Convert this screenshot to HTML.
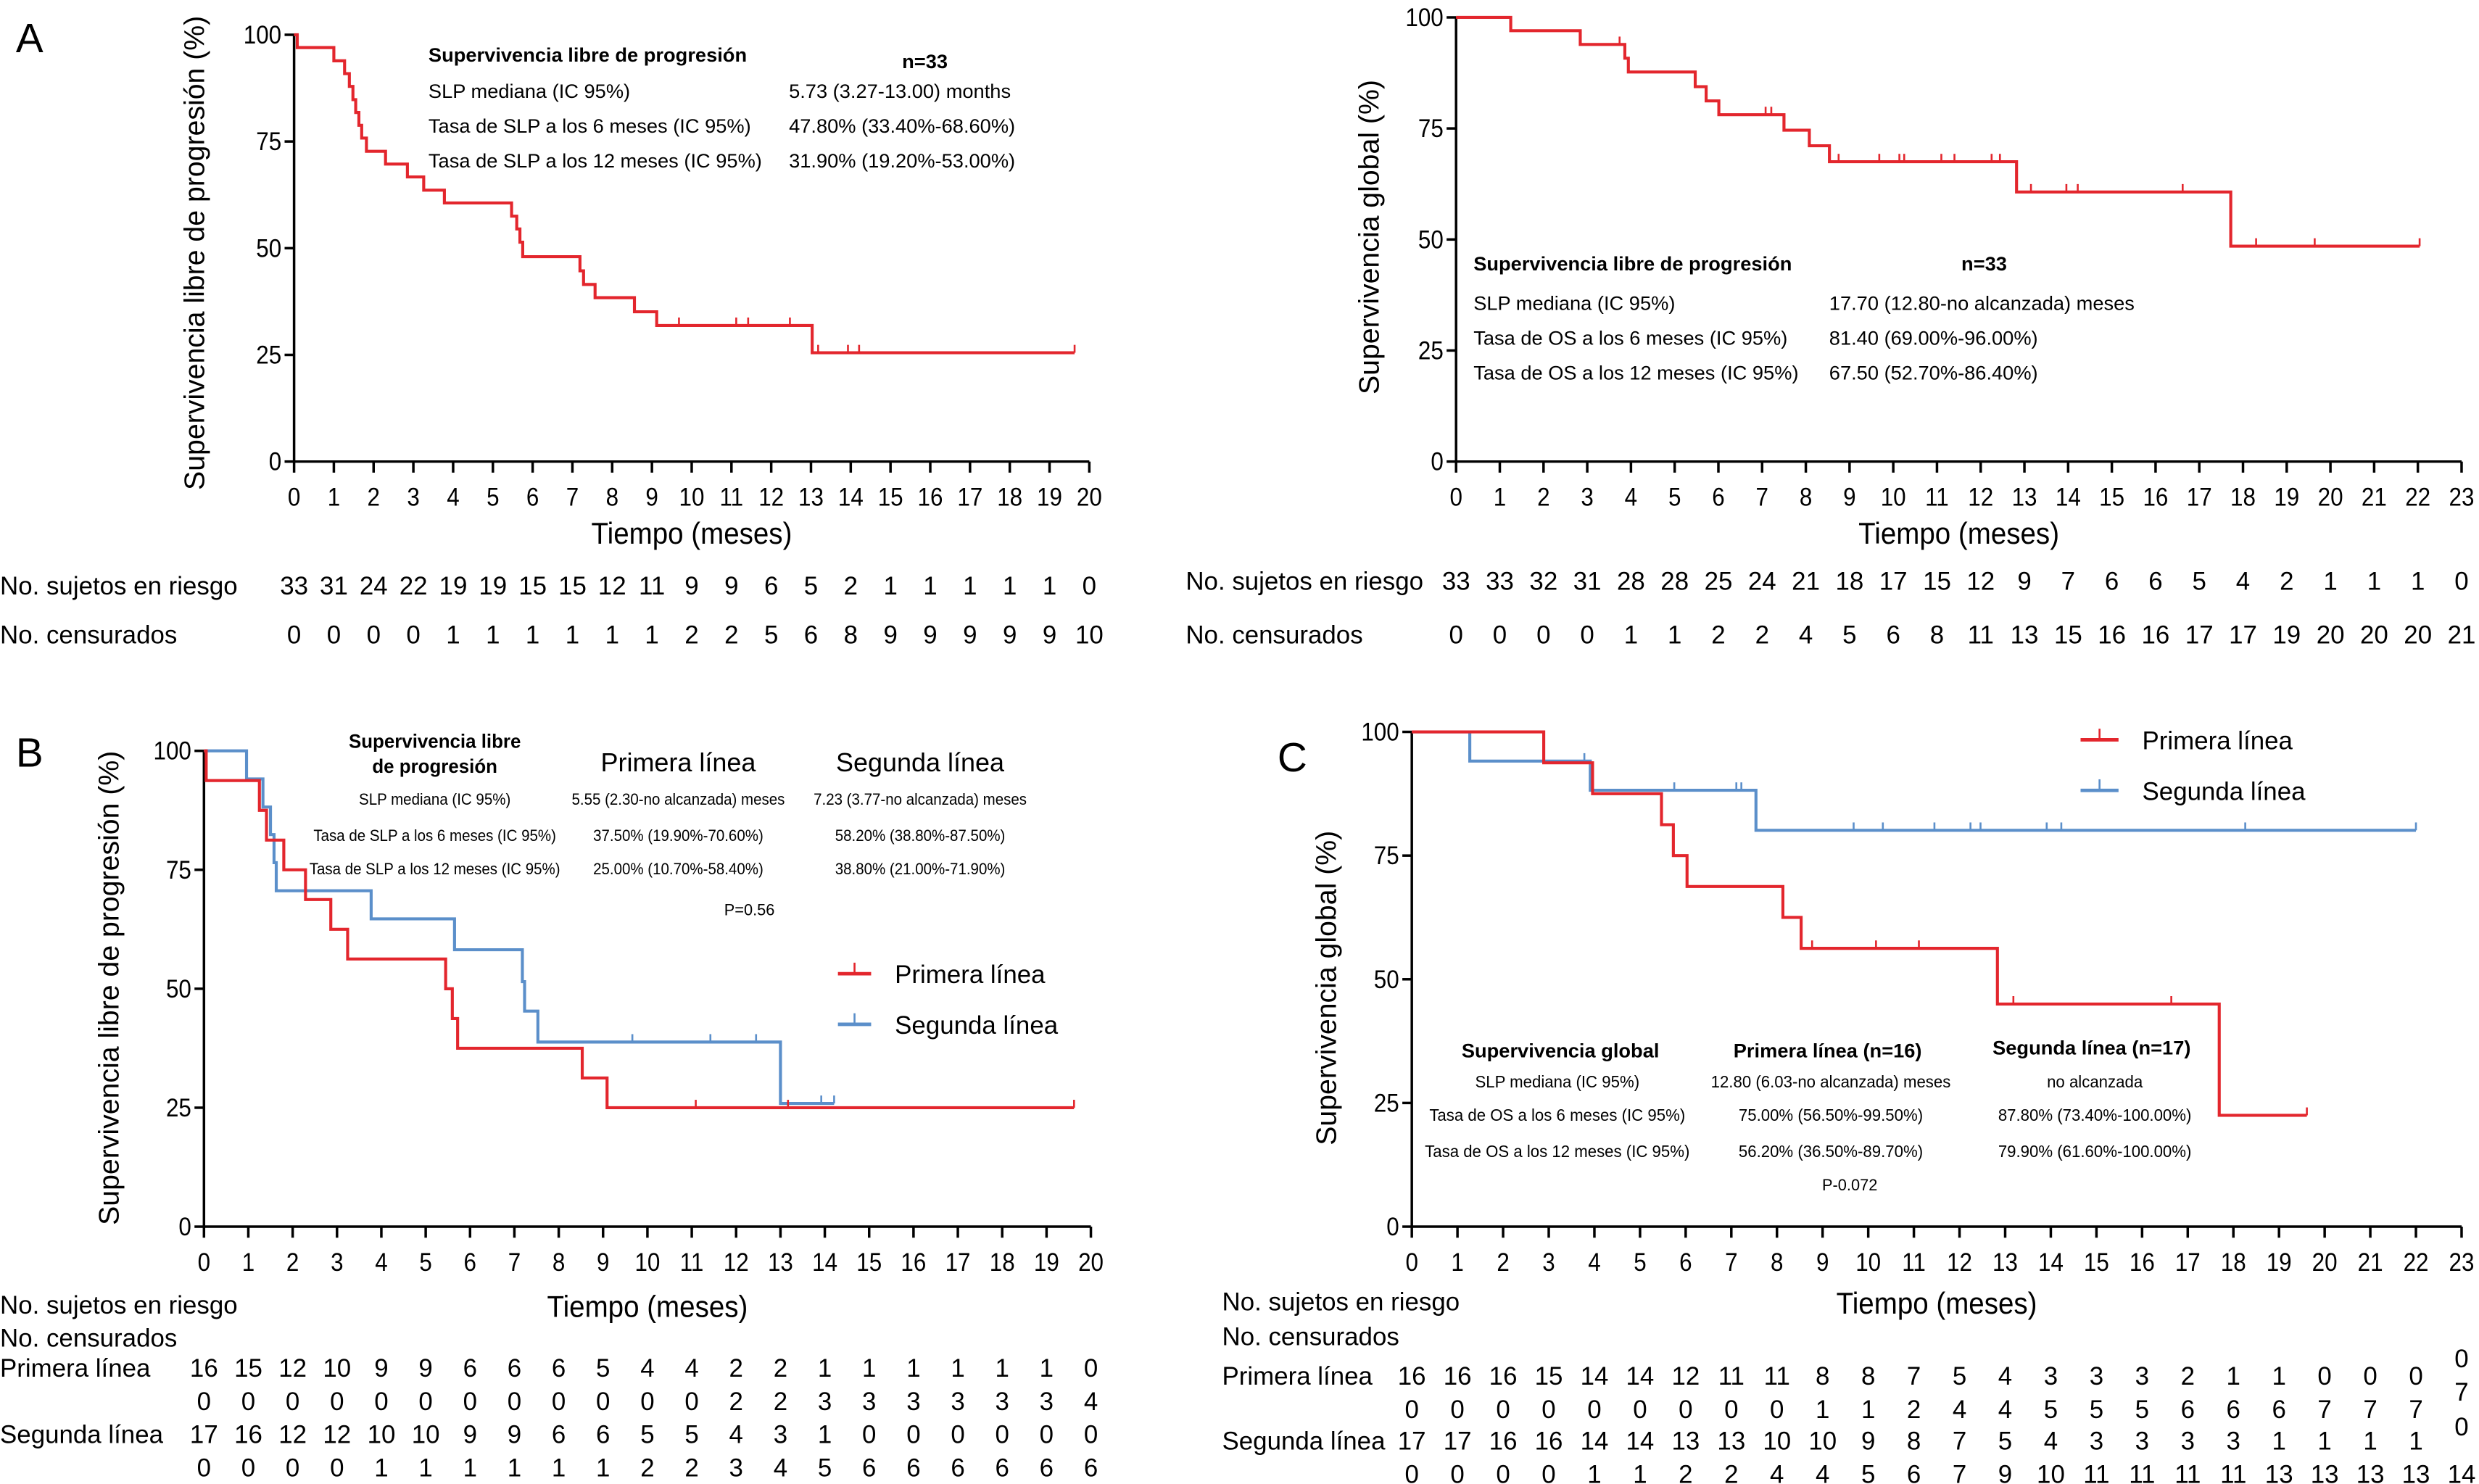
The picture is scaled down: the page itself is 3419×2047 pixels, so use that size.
<!DOCTYPE html>
<html><head><meta charset="utf-8"><style>
html,body{margin:0;padding:0;background:#fff}
svg{display:block}
text{font-family:"Liberation Sans",sans-serif;fill:#000}
</style></head><body>
<svg id="fig" width="3419" height="2047" viewBox="0 0 1568 938.8" xmlns="http://www.w3.org/2000/svg"></svg>
<script>
// ---- Panel A left (PFS overall) ----
const aTimes=[0.08,1.0,1.27,1.39,1.48,1.55,1.63,1.7,1.82,2.3,2.85,3.26,3.78,5.47,5.6,5.68,5.75,7.19,7.28,7.57,8.56,9.12,13.03];
const aSurv=[97,93.9,90.9,87.9,84.8,81.8,78.8,75.8,72.7,69.7,66.7,63.6,60.6,57.5,54.5,51.4,48.0,44.7,41.5,38.4,35.1,31.9,25.5];
const aCens=[9.68,11.12,11.42,12.47,13.18,13.93,14.21];
const aEnd=19.63;
const aRisk=[33,31,24,22,19,19,15,15,12,11,9,9,6,5,2,1,1,1,1,1,0];
const aCensN=[0,0,0,0,1,1,1,1,1,1,2,2,5,6,8,9,9,9,9,9,10];
// ---- Panel A right (OS overall) ----
const oTimes=[1.25,2.84,3.86,3.94,5.47,5.72,6.01,7.5,8.08,8.54,12.82,17.72];
const oSurv=[97,93.9,90.8,87.7,84.4,81.2,78.1,74.6,71.1,67.5,60.7,48.5];
const oCens=[3.74,7.08,7.21,8.75,9.68,10.14,10.25,11.1,11.4,12.25,12.44,13.15,13.96,14.22,16.62,18.3,19.64];
const oEnd=22.04;
const oRisk=[33,33,32,31,28,28,25,24,21,18,17,15,12,9,7,6,6,5,4,2,1,1,1,0];
const oCensN=[0,0,0,0,1,1,2,2,4,5,6,8,11,13,15,16,16,17,17,19,20,20,20,21];
// ---- Panel B (PFS by line) ----
const bRedTimes=[0.05,1.25,1.41,1.8,2.29,2.86,3.24,5.45,5.6,5.72,8.53,9.09];
const bRedSurv=[93.75,87.5,81.25,75,68.75,62.5,56.25,50,43.75,37.5,31.25,25];
const bRedCens=[11.09,13.17];
const bRedEnd=19.62;
const bBlueTimes=[0.96,1.33,1.5,1.58,1.63,3.77,5.65,7.18,7.23,7.53,13.0];
const bBlueSurv=[94.1,88.2,82.4,76.5,70.6,64.7,58.2,51.5,45.3,38.8,25.9];
const bBlueCens=[9.66,11.42,12.45,13.92];
const bBlueEnd=14.21;
const bRisk1=[16,15,12,10,9,9,6,6,6,5,4,4,2,2,1,1,1,1,1,1,0];
const bCens1=[0,0,0,0,0,0,0,0,0,0,0,0,2,2,3,3,3,3,3,3,4];
const bRisk2=[17,16,12,12,10,10,9,9,6,6,5,5,4,3,1,0,0,0,0,0,0];
const bCens2=[0,0,0,0,1,1,1,1,1,1,2,2,3,4,5,6,6,6,6,6,6];
// ---- Panel C (OS by line) ----
const cRedTimes=[2.89,3.96,5.47,5.73,6.03,8.13,8.53,12.83,17.69];
const cRedSurv=[93.75,87.5,81.25,75,68.75,62.5,56.25,45,22.5];
const cRedCens=[8.77,10.17,11.11,13.18,16.64];
const cRedEnd=19.61;
const cBlueTimes=[1.27,3.91,7.54];
const cBlueSurv=[94.1,88.2,80.1];
const cBlueCens=[3.78,5.75,7.11,7.22,9.68,10.32,11.45,12.24,12.46,13.91,14.23,18.26];
const cBlueEnd=22.0;
const cRisk1=[16,16,16,15,14,14,12,11,11,8,8,7,5,4,3,3,3,2,1,1,0,0,0];
const cCens1=[0,0,0,0,0,0,0,0,0,1,1,2,4,4,5,5,5,6,6,6,7,7,7];
const cRisk2=[17,17,16,16,14,14,13,13,10,10,9,8,7,5,4,3,3,3,3,1,1,1,1];
const cCens2=[0,0,0,0,1,1,2,2,4,4,5,6,7,9,10,11,11,11,11,13,13,13,13,14];

const svg=document.getElementById('fig');
const NS='http://www.w3.org/2000/svg';
const RED='#e3262d', BLUE='#5b8fca';
function el(tag,attrs,parent){const e=document.createElementNS(NS,tag);for(const k in attrs)e.setAttribute(k,attrs[k]);(parent||svg).appendChild(e);return e;}
function txt(x,y,s,size,anchor,bold,name,cond){
  const c=(cond===undefined||cond===false)?1:cond;
  const t=el('text',{transform:'translate('+x+','+y+') scale('+c+',1)','font-size':size,'text-anchor':anchor||'start','font-weight':bold?'bold':'normal'});
  t.textContent=s;
  
  
  return t;
}
function makeAxes(p){
  const g=el('g',{});
  
  
  p.x=v=>p.x0+(p.x1-p.x0)*v/p.max;
  p.y=v=>p.y0+(p.y100-p.y0)*v/100;
  el('line',{x1:p.x0,y1:p.y100,x2:p.x0,y2:p.y0,stroke:'#000','stroke-width':1.6},g);
  el('line',{x1:p.x0,y1:p.y0,x2:p.x1,y2:p.y0,stroke:'#000','stroke-width':1.6},g);
  [0,25,50,75,100].forEach(v=>{
    el('line',{x1:p.x0-6,y1:p.y(v),x2:p.x0,y2:p.y(v),stroke:'#000','stroke-width':1.6},g);
    txt(p.x0-8,p.y(v)+5.5,String(v),16,'end',false,'y-tick-label',0.9);
  });
  for(let i=0;i<=p.max;i++){
    el('line',{x1:p.x(i),y1:p.y0,x2:p.x(i),y2:p.y0+7,stroke:'#000','stroke-width':1.6},g);
    txt(p.x(i),p.y0+28,String(i),16,'middle',false,'x-tick-label',0.9);
  }
  txt((p.x0+p.x1)/2,p.titleY,'Tiempo (meses)',19,'middle',false,'x-axis-title',0.93);
  const yt=el('text',{transform:'translate('+p.ytx+','+p.yty+') rotate(-90)','font-size':18,'text-anchor':'middle'});
  yt.textContent=p.ytitle;
  
  
}
function km(p,times,surv,end,cens,color,name){
  let d='M'+p.x(0)+','+p.y(100);
  times.forEach((t,i)=>{d+=' H'+p.x(t)+' V'+p.y(surv[i]);});
  d+=' H'+p.x(end);
  const path=el('path',{d:d,fill:'none',stroke:color,'stroke-width':1.9});
  
  
  const sAt=t=>{let s=100;times.forEach((tt,i)=>{if(tt<=t)s=surv[i];});return s;};
  cens.concat([end]).forEach(t=>{
    const c=el('line',{x1:p.x(t),y1:p.y(sAt(t)),x2:p.x(t),y2:p.y(sAt(t))-5,stroke:color,'stroke-width':1.2});
    
    
  });
}
function row(p,vals,y,name){vals.forEach((v,i)=>{txt(p.x(Math.min(i,p.max)),y,String(v),16,'middle',false,name);});}

// Panel A left
const PA={name:'panel-a-pfs',x0:186,x1:689,y0:292,y100:22,max:20,titleY:344,ytx:129,yty:160,ytitle:'Supervivencia libre de progresión (%)'};
makeAxes(PA);
km(PA,aTimes,aSurv,aEnd,aCens,RED,'pfs-overall');
txt(10,33,'A',26,'start',false,'panel-label-a');
txt(271,39,'Supervivencia libre de progresión',12.5,'start',true,'stats-header');
txt(585,43,'n=33',12.5,'middle',true,'stats-n');
[['SLP mediana (IC 95%)','5.73 (3.27-13.00) months',62],['Tasa de SLP a los 6 meses (IC 95%)','47.80% (33.40%-68.60%)',84],['Tasa de SLP a los 12 meses (IC 95%)','31.90% (19.20%-53.00%)',106]].forEach(r=>{txt(271,r[2],r[0],12.5,'start',false,'stats-label');txt(499,r[2],r[1],12.5,'start',false,'stats-value');});
txt(0,376,'No. sujetos en riesgo',16,'start',false,'risk-row-label');
txt(0,407,'No. censurados',16,'start',false,'censored-row-label');
row(PA,aRisk,376,'risk-count');
row(PA,aCensN,407,'censored-count');

// Panel A right
const PO={name:'panel-a-os',x0:921,x1:1557,y0:292,y100:11,max:23,titleY:344,ytx:872,yty:150,ytitle:'Supervivencia global (%)'};
makeAxes(PO);
km(PO,oTimes,oSurv,oEnd,oCens,RED,'os-overall');
txt(932,171,'Supervivencia libre de progresión',12.5,'start',true,'stats-header');
txt(1255,171,'n=33',12.5,'middle',true,'stats-n');
[['SLP mediana (IC 95%)','17.70 (12.80-no alcanzada) meses',196],['Tasa de OS a los 6 meses (IC 95%)','81.40 (69.00%-96.00%)',218],['Tasa de OS a los 12 meses (IC 95%)','67.50 (52.70%-86.40%)',240]].forEach(r=>{txt(932,r[2],r[0],12.5,'start',false,'stats-label');txt(1157,r[2],r[1],12.5,'start',false,'stats-value');});
txt(750,373,'No. sujetos en riesgo',16,'start',false,'risk-row-label');
txt(750,407,'No. censurados',16,'start',false,'censored-row-label');
row(PO,oRisk,373,'risk-count');
row(PO,oCensN,407,'censored-count');

// Panel B
const PB={name:'panel-b-pfs',x0:129,x1:690,y0:776,y100:475,max:20,titleY:833,ytx:75,yty:625,ytitle:'Supervivencia libre de progresión (%)'};
makeAxes(PB);
km(PB,bBlueTimes,bBlueSurv,bBlueEnd,bBlueCens,BLUE,'pfs-second-line');
km(PB,bRedTimes,bRedSurv,bRedEnd,bRedCens,RED,'pfs-first-line');
txt(10,485,'B',26,'start',false,'panel-label-b');
txt(275,473,'Supervivencia libre',12.5,'middle',true,'stats-header',0.95);
txt(275,489,'de progresión',12.5,'middle',true,'stats-header',0.95);
txt(429,488,'Primera línea',16.5,'middle',false,'stats-col-header');
txt(582,488,'Segunda línea',16.5,'middle',false,'stats-col-header');
[['SLP mediana (IC 95%)','5.55 (2.30-no alcanzada) meses','7.23 (3.77-no alcanzada) meses',509],['Tasa de SLP a los 6 meses (IC 95%)','37.50% (19.90%-70.60%)','58.20% (38.80%-87.50%)',532],['Tasa de SLP a los 12 meses (IC 95%)','25.00% (10.70%-58.40%)','38.80% (21.00%-71.90%)',553]].forEach(r=>{txt(275,r[3],r[0],10,'middle',false,'stats-label',0.94);txt(429,r[3],r[1],10,'middle',false,'stats-value',0.94);txt(582,r[3],r[2],10,'middle',false,'stats-value',0.94);});
txt(474,579,'P=0.56',10,'middle',false,'p-value');
function legend(x1,x2,y,color,label,tx,name){
  const g=el('g',{});
  el('line',{x1:x1,y1:y,x2:x2,y2:y,stroke:color,'stroke-width':2.2},g);
  el('line',{x1:(x1+x2)/2,y1:y,x2:(x1+x2)/2,y2:y-7,stroke:color,'stroke-width':1.2},g);
  txt(tx,y+6,label,16,'start',false,name+'-text');
}
legend(530,551,616,RED,'Primera línea',566,'legend-first-line');
legend(530,551,648,BLUE,'Segunda línea',566,'legend-second-line');
txt(0,831,'No. sujetos en riesgo',16,'start',false,'risk-row-label');
txt(0,852,'No. censurados',16,'start',false,'censored-row-label');
txt(0,871,'Primera línea',16,'start',false,'group-row-label');
txt(0,913,'Segunda línea',16,'start',false,'group-row-label');
row(PB,bRisk1,871,'risk-count');
row(PB,bCens1,892,'censored-count');
row(PB,bRisk2,913,'risk-count');
row(PB,bCens2,934,'censored-count');

// Panel C
const PC={name:'panel-c-os',x0:893,x1:1557,y0:776,y100:463,max:23,titleY:831,ytx:845,yty:625,ytitle:'Supervivencia global (%)'};
makeAxes(PC);
km(PC,cBlueTimes,cBlueSurv,cBlueEnd,cBlueCens,BLUE,'os-second-line');
km(PC,cRedTimes,cRedSurv,cRedEnd,cRedCens,RED,'os-first-line');
txt(808,488,'C',26,'start',false,'panel-label-c');
txt(987,669,'Supervivencia global',12.5,'middle',true,'stats-header');
txt(1156,669,'Primera línea (n=16)',12.5,'middle',true,'stats-col-header');
txt(1323,667,'Segunda línea (n=17)',12.5,'middle',true,'stats-col-header');
[['SLP mediana (IC 95%)','12.80 (6.03-no alcanzada) meses','no alcanzada',688],['Tasa de OS a los 6 meses (IC 95%)','75.00% (56.50%-99.50%)','87.80% (73.40%-100.00%)',709],['Tasa de OS a los 12 meses (IC 95%)','56.20% (36.50%-89.70%)','79.90% (61.60%-100.00%)',732]].forEach(r=>{txt(985,r[3],r[0],10.5,'middle',false,'stats-label',0.97);txt(1158,r[3],r[1],10.5,'middle',false,'stats-value',0.97);txt(1325,r[3],r[2],10.5,'middle',false,'stats-value',0.97);});
txt(1170,753,'P-0.072',10,'middle',false,'p-value');
legend(1316,1340,468,RED,'Primera línea',1355,'legend-first-line');
legend(1316,1340,500,BLUE,'Segunda línea',1355,'legend-second-line');
txt(773,829,'No. sujetos en riesgo',16,'start',false,'risk-row-label');
txt(773,851,'No. censurados',16,'start',false,'censored-row-label');
txt(773,876,'Primera línea',16,'start',false,'group-row-label');
txt(773,917,'Segunda línea',16,'start',false,'group-row-label');
function rowC(vals,y,name){vals.forEach((v,i)=>{txt(PC.x(i),y,String(v),16,'middle',false,name);});}
rowC(cRisk1,876,'risk-count');
rowC(cCens1,897,'censored-count');
rowC(cRisk2,917,'risk-count');
rowC(cCens2,938,'censored-count');
txt(PC.x(23),865,'0',16,'middle',false,'risk-count');
txt(PC.x(23),886,'7',16,'middle',false,'censored-count');
txt(PC.x(23),908,'0',16,'middle',false,'risk-count');
</script>
</body></html>
